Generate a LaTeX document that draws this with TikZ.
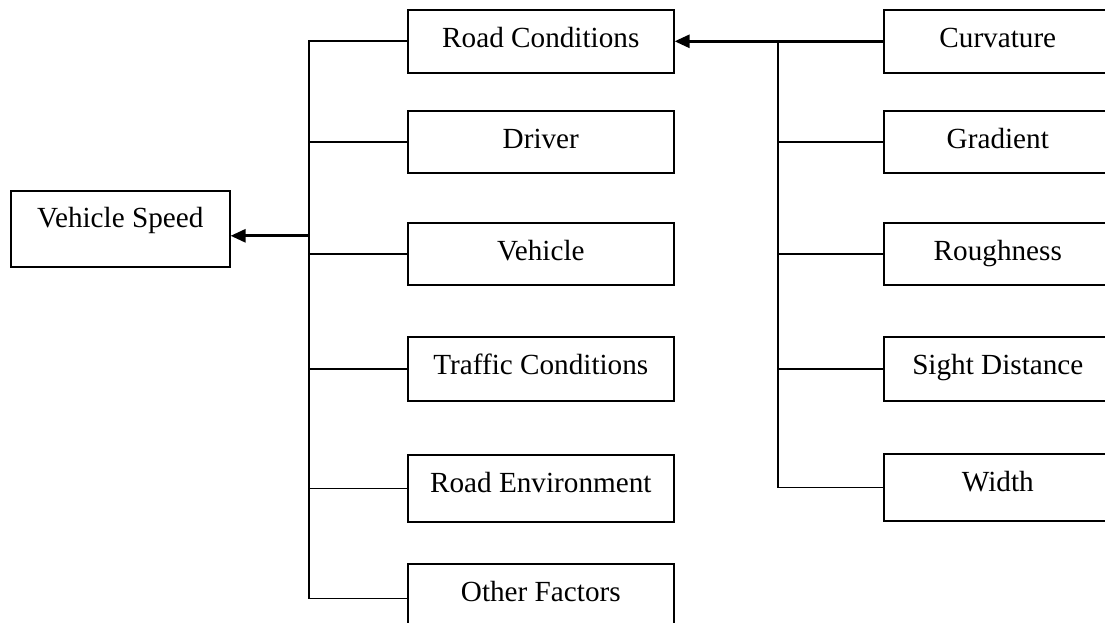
\documentclass[tikz,border=0pt]{standalone}
\usepackage{fontspec}
\setmainfont{Liberation Serif}
\usetikzlibrary{arrows.meta}
\begin{document}
\begin{tikzpicture}[x=1pt,y=-1pt,
  box/.style={draw,line width=1.6pt,inner xsep=0pt,inner ysep=0pt,anchor=north west,
    font=\fontsize{29.2}{35}\selectfont,text height=37.5pt},
  lbox/.style={box,minimum width=266pt},
  rbox/.style={box,minimum width=228pt},
  link/.style={line width=1.6pt},
  arr/.style={line width=2.8pt,-{Triangle[length=15pt,width=13pt]}}]
\useasboundingbox (0,0) rectangle (1105,623);
\clip (0,0) rectangle (1105,623);
\fill[white] (0,0) rectangle (1105,623);
% main node
\node[box,minimum width=219pt,text height=37pt,text depth=39pt] (vs) at (10,190) {Vehicle Speed};
% left column
\node[lbox,text depth=25.5pt] (rc) at (407,9) {Road Conditions};
\node[lbox,text depth=24.5pt] (dr) at (407,110) {Driver};
\node[lbox,text depth=24.5pt] (ve) at (407,222) {Vehicle};
\node[lbox,text depth=26.5pt] (tc) at (407,336) {Traffic Conditions};
\node[lbox,text depth=29.5pt] (re) at (407,454) {Road Environment};
\node[lbox,text depth=32pt] (of) at (407,563) {Other Factors};
% right column
\node[rbox,text depth=25.5pt] (cu) at (883,9) {Curvature};
\node[rbox,text depth=24.5pt] (gr) at (883,110) {Gradient};
\node[rbox,text depth=24.5pt] (ro) at (883,222) {Roughness};
\node[rbox,text depth=26.5pt] (sd) at (883,336) {Sight Distance};
\node[rbox,text depth=29.5pt] (wi) at (883,453) {Width};
% spines
\coordinate (ls) at (309,0);
\coordinate (rs) at (778,0);
% left tree
\draw[link] (rc.west) -- (rc.west -| ls) -- (of.west -| ls) -- (of.west);
\draw[link] (dr.west -| ls) -- (dr.west);
\draw[link] (ve.west -| ls) -- (ve.west);
\draw[link] (tc.west -| ls) -- (tc.west);
\draw[link] (re.west -| ls) -- (re.west);
\draw[arr] ([yshift=-7pt]vs.east -| ls) -- ([yshift=-7pt]vs.east);
% right tree
\draw[arr] (cu.west) -- (rc.east);
\draw[link] (rc.east -| rs) -- (wi.west -| rs) -- (wi.west);
\draw[link] (gr.west -| rs) -- (gr.west);
\draw[link] (ro.west -| rs) -- (ro.west);
\draw[link] (sd.west -| rs) -- (sd.west);
\end{tikzpicture}
\end{document}
